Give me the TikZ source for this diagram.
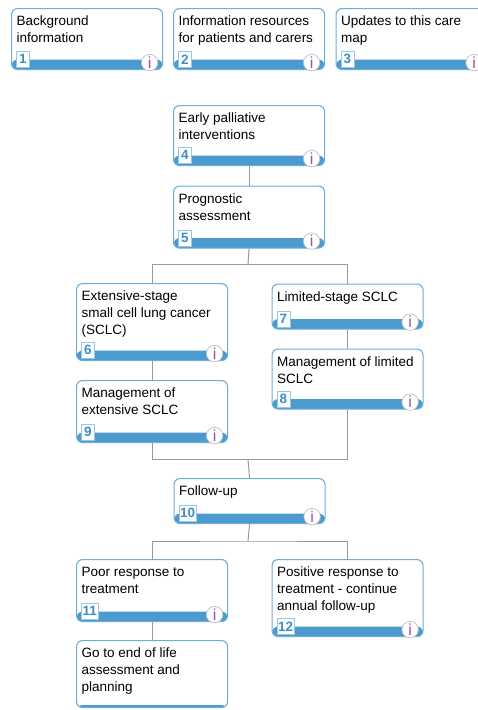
\documentclass[tikz,border=0pt]{standalone}
\usepackage{fontspec}
\setmainfont{Liberation Sans}
\begin{document}
\definecolor{edgeblue}{HTML}{6BAEDB}
\definecolor{bandblue}{HTML}{4B9BCF}
\definecolor{numblue}{HTML}{3D8FC8}
\definecolor{infopurple}{HTML}{9A4DA8}
\definecolor{linkgrey}{HTML}{9A9A9A}
\tikzset{
  cbox/.style={draw=edgeblue, line width=1.1pt, fill=white, rounded corners=6pt,
    anchor=north west, inner sep=0pt, minimum width=151pt,
    path picture={\fill[bandblue] ([yshift=10pt]path picture bounding box.south west)
      rectangle (path picture bounding box.south east);}},
  endbox/.style={draw=edgeblue, line width=1.1pt, fill=white, rounded corners=6pt,
    anchor=north west, inner sep=0pt, minimum width=151pt,
    path picture={\fill[bandblue] ([yshift=2.5pt]path picture bounding box.south west)
      rectangle (path picture bounding box.south east);}},
  ctext/.style={anchor=north west, inner sep=0pt, align=left,
    font=\fontsize{13.5}{16.7}\selectfont},
  numbox/.style={draw=edgeblue!70, line width=0.6pt, fill=white, inner xsep=1.2pt,
    inner ysep=0pt, minimum width=13pt, minimum height=16pt, anchor=south west,
    text=numblue, font=\fontsize{13.5}{14}\selectfont\bfseries},
  infoc/.style={circle, draw=black!25, line width=0.7pt, fill=white, inner sep=0pt,
    minimum size=16.5pt, text=infopurple, font=\fontsize{16}{16}\selectfont},
  conn/.style={draw=linkgrey, line width=1pt},
}
\newcommand{\fls}{\rule{0pt}{12.7pt}}
\begin{tikzpicture}[x=1pt, y=-1pt]
\useasboundingbox (0,0) rectangle (478,710);
\fill[white] (0,0) rectangle (478,710);

% junction points of the branching links
\coordinate (j1) at (248,264.5);
\coordinate (j2) at (248,459.5);
\coordinate (j3) at (248,541);

% boxes
\node[cbox, minimum height=61pt] (b1) at (11,8) {};
\node[cbox, minimum height=61pt] (b2) at (173,8) {};
\node[cbox, minimum height=61pt] (b3) at (335.5,8) {};
\node[cbox, minimum height=60pt] (b4) at (173,105) {};
\node[cbox, minimum height=62pt] (b5) at (173,185.5) {};
\node[cbox, minimum height=77pt] (b6) at (76,283) {};
\node[cbox, minimum height=45pt] (b7) at (271.5,283.5) {};
\node[cbox, minimum height=60pt] (b8) at (271.5,348.5) {};
\node[cbox, minimum height=62pt] (b9) at (76,380) {};
\node[cbox, minimum height=45pt] (b10) at (173.5,478) {};
\node[cbox, minimum height=62pt] (b11) at (76,559) {};
\node[cbox, minimum height=77pt] (b12) at (271.5,559) {};
\node[endbox, minimum height=67pt] (b13) at (76,640) {};

% links between boxes
\draw[conn] (b4.south) -- (b5.north);
\draw[conn] (b5.south) -- (j1);
\draw[conn] (b6.north) |- (j1) -| (b7.north);
\draw[conn] (b6.south) -- (b9.north);
\draw[conn] (b7.south) -- (b8.north);
\draw[conn] (b9.south) |- (j2) -| (b8.south);
\draw[conn] (j2) -- (b10.north);
\draw[conn] (b10.south) -- (j3);
\draw[conn] (b11.north) |- (j3) -| (b12.north);
\draw[conn] (b11.south) -- (b13.north);

% texts
\node[ctext] (t1) at ([xshift=5.5pt,yshift=-5pt]b1.north west) {\fls Background\\information};
\node[ctext] (t2) at ([xshift=5.5pt,yshift=-5pt]b2.north west) {\fls Information resources\\for patients and carers};
\node[ctext] (t3) at ([xshift=5.5pt,yshift=-5pt]b3.north west) {\fls Updates to this care\\map};
\node[ctext] (t4) at ([xshift=5.5pt,yshift=-5pt]b4.north west) {\fls Early palliative\\interventions};
\node[ctext] (t5) at ([xshift=5.5pt,yshift=-5pt]b5.north west) {\fls Prognostic\\assessment};
\node[ctext] (t6) at ([xshift=5.5pt,yshift=-5pt]b6.north west) {\fls Extensive-stage\\small cell lung cancer\\(SCLC)};
\node[ctext] (t7) at ([xshift=5.5pt,yshift=-5pt]b7.north west) {\fls Limited-stage SCLC};
\node[ctext] (t8) at ([xshift=5.5pt,yshift=-5pt]b8.north west) {\fls Management of limited\\SCLC};
\node[ctext] (t9) at ([xshift=5.5pt,yshift=-5pt]b9.north west) {\fls Management of\\extensive SCLC};
\node[ctext] (t10) at ([xshift=5.5pt,yshift=-5pt]b10.north west) {\fls Follow-up};
\node[ctext] (t11) at ([xshift=5.5pt,yshift=-5pt]b11.north west) {\fls Poor response to\\treatment};
\node[ctext] (t12) at ([xshift=5.5pt,yshift=-5pt]b12.north west) {\fls Positive response to\\treatment - continue\\annual follow-up};
\node[ctext] (t13) at ([xshift=5.5pt,yshift=-5pt]b13.north west) {\fls Go to end of life\\assessment and\\planning};

% numbers and info marks
\foreach \b in {1,...,12}{
  \node[numbox] (n\b) at ([xshift=5pt,yshift=2.5pt]b\b.south west) {\b};
  \node[infoc] (i\b) at ([xshift=-13.5pt,yshift=7.5pt]b\b.south east) {i};
}
\end{tikzpicture}
\end{document}
